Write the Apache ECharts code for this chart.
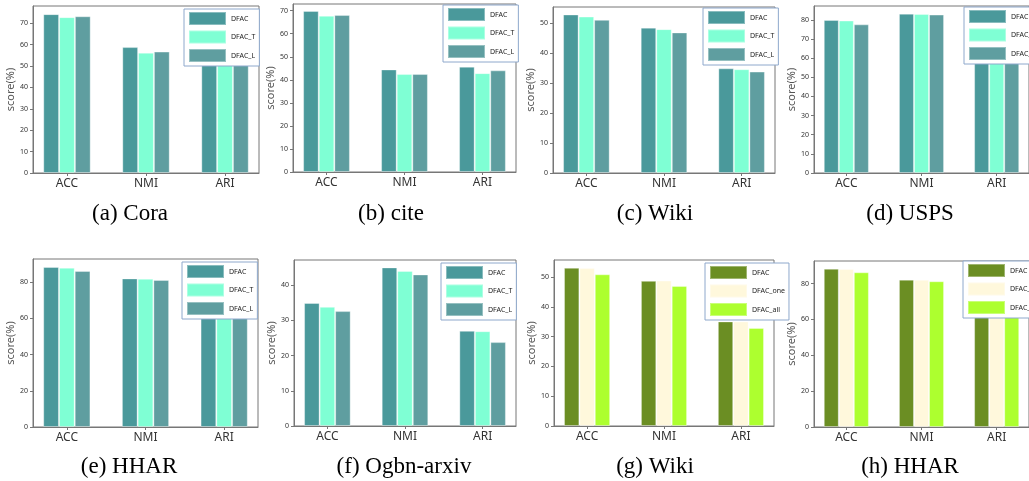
<!DOCTYPE html>
<html><head><meta charset="utf-8">
<script src="https://cdn.jsdelivr.net/npm/echarts@6/dist/echarts.min.js"></script>
<style>html,body{margin:0;padding:0;background:#fff}#c{width:1029px;height:481px}</style>
</head><body><div id="c"></div>
<script>
// ---- data ----
const categories = ['ACC', 'NMI', 'ARI'];
const namesTL = ['DFAC', 'DFAC_T', 'DFAC_L'];
const namesOA = ['DFAC', 'DFAC_one', 'DFAC_all'];
const colorsTL = ['#4a999b', '#7fffd4', '#5f9ea0'];
const colorsOA = ['#6b8e23', '#fff8dc', '#adff2f'];

// rows: DFAC, second variant, third variant ; columns: ACC, NMI, ARI
const coraValues  = [[74.2, 58.8, 54.2], [72.8, 56.2, 53.1], [73.2, 56.7, 53.6]];
const citeValues  = [[69.9, 44.5, 45.7], [67.8, 42.5, 42.9], [68.1, 42.5, 44.1]];
const wikiValues  = [[53.0, 48.6, 35.0], [52.3, 48.1, 34.7], [51.2, 47.0, 33.9]];
const uspsValues  = [[80.0, 83.3, 75.0], [79.7, 83.1, 74.6], [77.7, 82.8, 72.5]];
const hharValues  = [[88.3, 82.0, 76.5], [87.9, 81.8, 76.2], [86.1, 81.1, 74.0]];
const arxivValues = [[34.9, 45.0, 27.0], [33.8, 44.0, 26.9], [32.6, 43.0, 23.8]];
const wikiAblValues = [[53.1, 48.7, 35.1], [53.0, 48.8, 35.1], [50.9, 47.0, 32.9]];
const hharAblValues = [[88.3, 82.2, 76.5], [88.1, 82.1, 76.3], [86.3, 81.3, 74.8]];

const ticks70 = [0, 10, 20, 30, 40, 50, 60, 70];
const ticks50 = [0, 10, 20, 30, 40, 50];
const ticks80by10 = [0, 10, 20, 30, 40, 50, 60, 70, 80];
const ticks80by20 = [0, 20, 40, 60, 80];
const ticks40 = [0, 10, 20, 30, 40];

const captions = ['(a) Cora', '(b) cite', '(c) Wiki', '(d) USPS', '(e) HHAR', '(f) Ogbn-arxiv', '(g) Wiki', '(h) HHAR'];

// ---- layout ----
const panels = [
  {values: coraValues,  names: namesTL, colors: colorsTL, ticks: ticks70,     yMax: 78,   grid: [33, 6, 226, 167],   legend: [184, 9],   cap: [130, 214]},
  {values: citeValues,  names: namesTL, colors: colorsTL, ticks: ticks70,     yMax: 72.9, grid: [293, 4, 223, 168],  legend: [443, 5],   cap: [391, 214]},
  {values: wikiValues,  names: namesTL, colors: colorsTL, ticks: ticks50,     yMax: 55.5, grid: [553, 7, 222, 166],  legend: [703, 8],   cap: [655, 214]},
  {values: uspsValues,  names: namesTL, colors: colorsTL, ticks: ticks80by10, yMax: 87.3, grid: [814, 6, 224, 167],  legend: [964, 7],   cap: [910, 214]},
  {values: hharValues,  names: namesTL, colors: colorsTL, ticks: ticks80by20, yMax: 92.7, grid: [33, 259, 225, 168], legend: [182, 262], cap: [129, 467]},
  {values: arxivValues, names: namesTL, colors: colorsTL, ticks: ticks40,     yMax: 47.1, grid: [294, 260, 222, 166],legend: [441, 263], cap: [404, 467]},
  {values: wikiAblValues, names: namesOA, colors: colorsOA, ticks: ticks50,   yMax: 55.7, grid: [554, 260, 220, 166],legend: [705, 263], cap: [655, 467], suffix: '|b'},
  {values: hharAblValues, names: namesOA, colors: colorsOA, ticks: ticks80by20, yMax: 92.6, grid: [814, 261, 224, 166], legend: [963, 261], cap: [910, 467], suffix: '|b'}
];

const axisColor = '#777';
const sans = 'Noto Sans';
const option = {
  animation: false,
  backgroundColor: '#fff',
  grid: [], xAxis: [], yAxis: [], series: [], legend: [], graphic: []
};

panels.forEach((p, i) => {
  const suf = p.suffix || '';
  option.grid.push({
    left: p.grid[0], top: p.grid[1], width: p.grid[2], height: p.grid[3],
    show: true, borderColor: axisColor, borderWidth: 1, containLabel: false
  });
  option.xAxis.push({
    gridIndex: i, type: 'value', min: -0.43, max: 2.43,
    axisLine: {show: true, onZero: false, lineStyle: {color: axisColor}},
    splitLine: {show: false},
    axisTick: {show: true, customValues: [0, 1, 2], length: 3, lineStyle: {color: axisColor}},
    axisLabel: {customValues: [0, 1, 2], formatter: v => categories[Math.round(v)] || '',
      fontSize: 12, color: '#333', margin: 5, fontFamily: sans}
  });
  option.yAxis.push({
    gridIndex: i, type: 'value', min: 0, max: p.yMax,
    name: 'score(%)', nameLocation: 'middle', nameGap: 15, nameRotate: 90,
    nameTextStyle: {fontSize: 11, color: '#555', fontFamily: sans},
    axisLine: {show: true, onZero: false, lineStyle: {color: axisColor}},
    splitLine: {show: false},
    axisTick: {show: true, customValues: p.ticks, length: 3, lineStyle: {color: axisColor}},
    axisLabel: {customValues: p.ticks, fontSize: 7, color: '#333', margin: 5, fontFamily: sans}
  });
  p.names.forEach((n, j) => {
    option.series.push({
      type: 'bar', name: n + suf, xAxisIndex: i, yAxisIndex: i,
      data: categories.map((c, k) => [k, p.values[j][k]]),
      barWidth: '20%', barGap: '0%',
      itemStyle: {color: p.colors[j], borderColor: 'rgba(255,255,255,0.35)', borderWidth: 1}
    });
  });
  option.legend.push({
    orient: 'vertical', left: p.legend[0], top: p.legend[1],
    itemWidth: 37, itemHeight: 13, itemGap: 3.5,
    padding: [2, 4, 3, 4], borderColor: '#8ea8cc', borderWidth: 1, backgroundColor: '#fff',
    icon: 'rect', selectedMode: false,
    textStyle: {fontSize: 7, color: '#222', fontFamily: sans},
    data: p.names.map(n => n + suf),
    formatter: name => name.replace(/\|.*$/, '')
  });
  option.graphic.push({
    type: 'text', x: p.cap[0], y: p.cap[1],
    style: {text: captions[i], font: '23px "Liberation Serif"', fill: '#000', align: 'center', verticalAlign: 'middle'}
  });
});

const chart = echarts.init(document.getElementById('c'), null, {renderer: 'canvas'});
chart.setOption(option);
</script>
</body></html>
